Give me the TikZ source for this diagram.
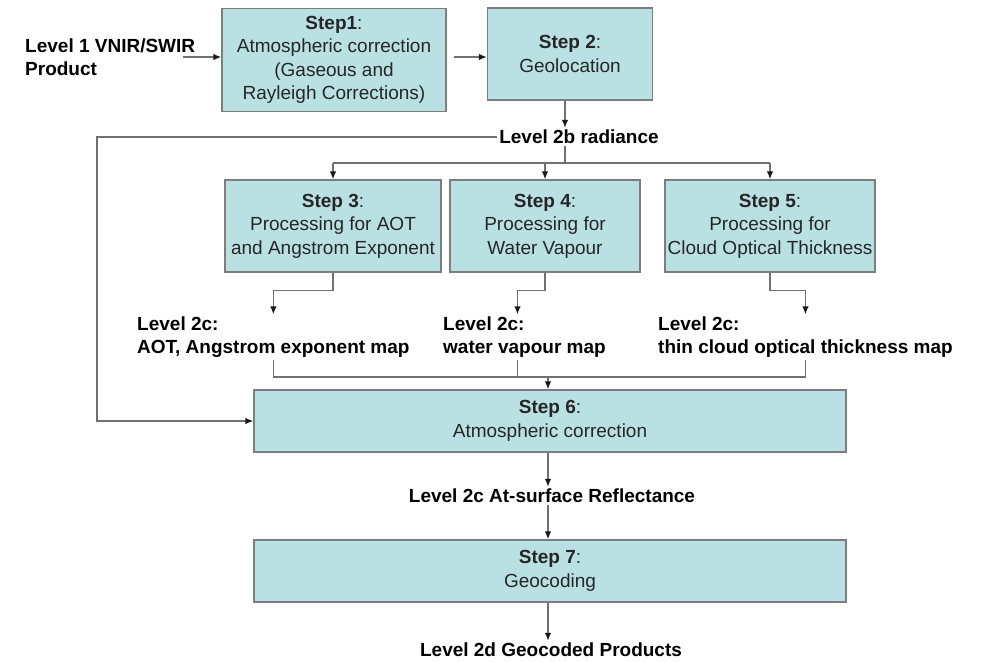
\documentclass[tikz,border=0pt]{standalone}
\usepackage{fontspec}
\setmainfont{Liberation Sans}
\usetikzlibrary{arrows.meta}
\definecolor{boxfill}{HTML}{B9E1E4}
\definecolor{boxline}{HTML}{7D7D7D}
\definecolor{wirecol}{HTML}{707070}

\begin{document}
\begin{tikzpicture}[x=1pt,y=-1pt,
    stepbox/.style={draw=boxline,fill=boxfill,line width=1.2pt,align=center,inner sep=1pt,text=black!85,font=\fontsize{19}{23.5}\selectfont},
    lvl/.style={align=left,inner sep=2pt,font=\bfseries\fontsize{19}{23}\selectfont},
    wire/.style={draw=wirecol,line width=1.5pt},
    arr/.style={wire,-{Latex[length=8pt,width=6.5pt,color=black!90]}}]
  \useasboundingbox (0,0) rectangle (981,662);
  \node[stepbox,minimum width=224pt,minimum height=103pt] (s1) at (334,60) {\textbf{Step1}:\\Atmospheric correction\\(Gaseous and\\Rayleigh Corrections)};
  \node[stepbox,minimum width=165pt,minimum height=92pt] (s2) at (570,54) {\textbf{Step 2}:\\Geolocation};
  \node[stepbox,minimum width=216pt,minimum height=92pt] (s3) at (333,226) {\textbf{Step 3}:\\Processing for AOT\\and Angstrom Exponent};
  \node[stepbox,minimum width=190pt,minimum height=92pt] (s4) at (545,226) {\textbf{Step 4}:\\Processing for\\Water Vapour};
  \node[stepbox,minimum width=210pt,minimum height=92pt] (s5) at (770,226) {\textbf{Step 5}:\\Processing for\\Cloud Optical Thickness};
  \node[stepbox,minimum width=592pt,minimum height=62pt] (s6) at (550,421) {\textbf{Step 6}:\\Atmospheric correction};
  \node[stepbox,minimum width=592pt,minimum height=62pt] (s7) at (550,571) {\textbf{Step 7}:\\Geocoding};

  \node[lvl,anchor=west] (l1) at (23,57) {Level 1 VNIR/SWIR\\Product};
  \node[lvl] (l2b) at (579,137) {Level 2b radiance};
  \node[lvl,anchor=west] (c3) at (135,337) {Level 2c:\\AOT, Angstrom exponent map};
  \node[lvl,anchor=west] (c4) at (441,337) {Level 2c:\\water vapour map};
  \node[lvl,anchor=west] (c5) at (656,337) {Level 2c:\\thin cloud optical thickness map};
  \node[lvl] (lrefl) at (552,496) {Level 2c At-surface Reflectance};
  \node[lvl] (l2d) at (551,650) {Level 2d Geocoded Products};

  \coordinate (fb) at (97,0);
  \coordinate (split) at (565,163);
  \coordinate (join) at (548,377);

  \draw[arr] ([xshift=-14pt]l1.east) -- (l1.east -| s1.west);
  \draw[arr,shorten <=7pt] (s1.east |- l1.east) -- (l1.east -| s2.west);
  \draw[arr] (s2.south -| split) -- (l2b.north -| split);
  \draw[arr] (l2b.west) -- (l2b.west -| fb) |- (s6.west);
  \draw[wire] (l2b.south -| split) -- (split);
  \draw[wire] (s3.north |- split) -- (s5.north |- split);
  \foreach \s in {s3,s4,s5}
    \draw[arr] (\s.north |- split) -- (\s.north);
  \draw[arr] (s3.south) -- ++(0,18) -| (c3.north);
  \draw[arr] (s4.south) -- ++(0,18) -| ([xshift=-7pt]c4.north);
  \draw[arr] (s5.south) -- ++(0,18) -| (c5.north);
  \draw[wire] (c3.south) -- (c3.south |- join) -- (c5.south |- join) -- (c5.south);
  \draw[wire] ([xshift=-7pt]c4.south) -- ([xshift=-7pt]c4.south |- join);
  \draw[arr] (join) -- (s6.north -| join);
  \draw[arr] (s6.south -| join) -- (lrefl.north -| join);
  \draw[arr] (lrefl.south -| join) -- (s7.north -| join);
  \draw[arr] (s7.south -| join) -- (l2d.north -| join);
\end{tikzpicture}
\end{document}
